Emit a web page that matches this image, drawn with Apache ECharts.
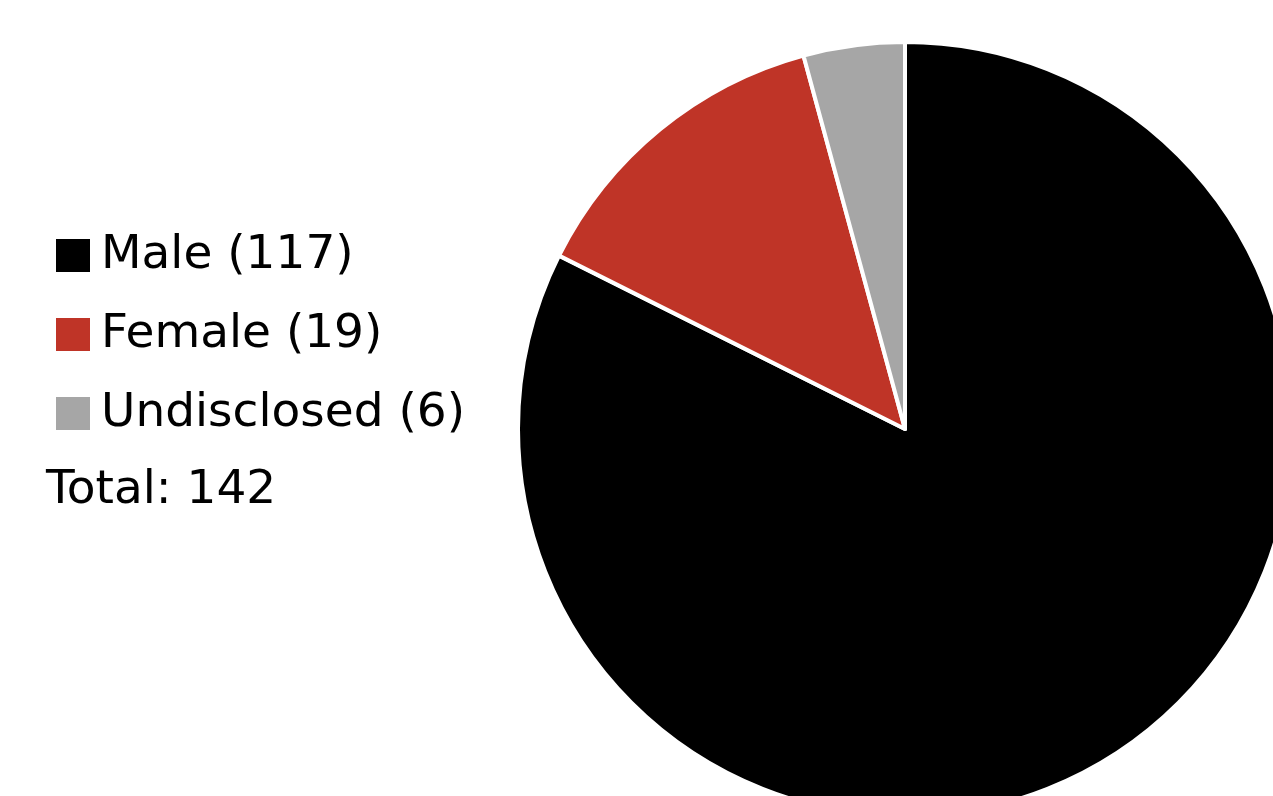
<!DOCTYPE html>
<html><head><meta charset="utf-8">
<script src="https://cdn.jsdelivr.net/npm/echarts@6/dist/echarts.min.js"></script>
<style>html,body{margin:0;padding:0;background:#fff}#c{width:1273px;height:796px}</style>
</head><body><div id="c"></div>
<script>
const categories = ['Male', 'Female', 'Undisclosed'];
const values = [117, 19, 6];
const colors = ['#000000', '#bf3427', '#a6a6a6'];
const total = values.reduce((a, b) => a + b, 0);

const chart = echarts.init(document.getElementById('c'));
const names = categories.map((c, i) => c + ' (' + values[i] + ')');
chart.setOption({
  animation: false,
  backgroundColor: '#ffffff',
  legend: {
    orient: 'vertical',
    left: 54,
    top: 232,
    padding: 0,
    itemWidth: 36,
    itemHeight: 35,
    itemGap: 32,
    icon: 'rect',
    data: names,
    textStyle: { fontFamily: 'DejaVu Sans', fontSize: 47, color: '#000', padding: [0, 0, 0, 5] }
  },
  graphic: [{
    type: 'text',
    x: 46,
    y: 491,
    style: { text: 'Total: ' + total, fontFamily: 'DejaVu Sans', fontSize: 47, fill: '#000', verticalAlign: 'middle' }
  }],
  series: [{
    type: 'pie',
    center: [905, 429],
    radius: 387,
    startAngle: 90,
    clockwise: true,
    label: { show: false },
    labelLine: { show: false },
    itemStyle: { borderColor: '#fff', borderWidth: 4 },
    emphasis: { disabled: true },
    data: names.map((n, i) => ({ name: n, value: values[i], itemStyle: { color: colors[i] } }))
  }]
});
</script></body></html>
